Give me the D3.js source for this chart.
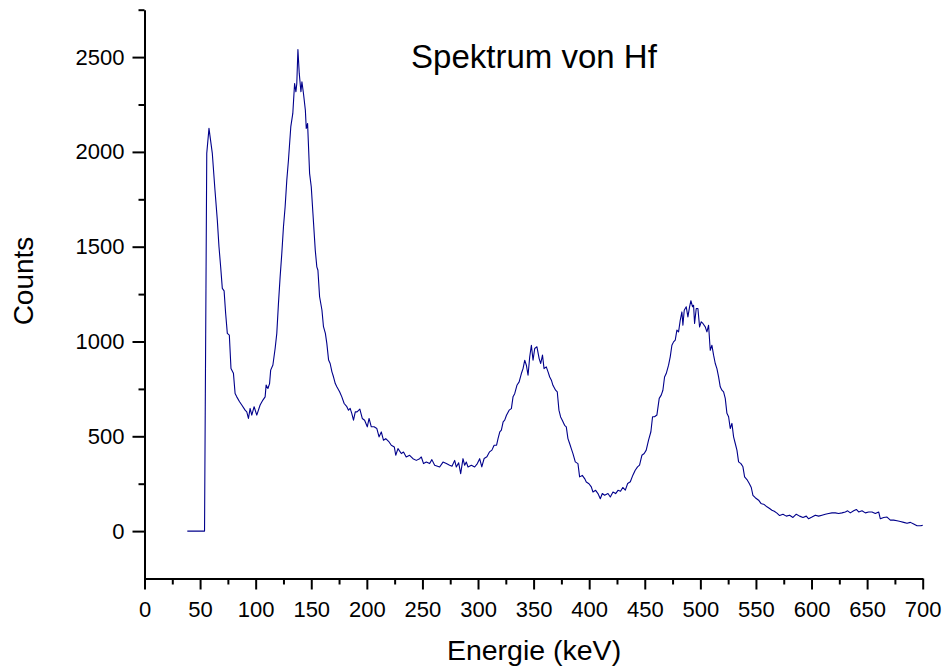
<!DOCTYPE html>
<html>
<head>
<meta charset="utf-8">
<script src="https://cdn.jsdelivr.net/npm/d3@7"></script>
<style>
  html, body { margin: 0; padding: 0; background: #fff; }
  svg { display: block; font-family: "Liberation Sans", Arial, sans-serif; }
</style>
</head>
<body>
<svg id="chart" width="945" height="667"></svg>
<script>
// ---- data ----
const energies = [
 38.5,54,56,58,61,63.4,65.5,67,68.5,70,71.6,73,74.5,76.3,77.8,80,81.5,83,85.5,87.5,90.5,92,93.5,95,96.5,98.6,101,104,106.5,108.5,109.4,111,112.5,113.5,115.5,117.5,119,120.5,122,123.5,125,126.5,128,129.5,131.6,133.4,135,136.2,137,138,139.2,140.7,141.6,143,144.7,145.5,146.7,148.5,150,151.5,153.6,155,156,157.5,159.6,161,162.7,164,165.6,167,168.6,170,171.6,173,175.5,177.5,179.6,182,183.5,185,186.5,188,189.6,191.2,193.7,195.9,198,200.4,202,204,206.5,209,211,213,215,217,220,222,224.7,226,228,231,233,235.4,238.5,241.5,244.5,247.5,249,251,253.5,256.5,258.5,261,265.5,268.5,271.5,274.5,276.6,279,280.5,282.6,284.4,286.5,288,289.5,291,294,297,299.4,301.5,303.4,305.5,308,310.4,312.5,314.5,316.7,318,319.6,321,322.6,324,325.6,328,330,331.5,333,335,337,339,340.5,342,343.5,345,346.5,348,349.5,351,353,355,356.4,358,359.4,361.4,363,364.5,366,367.4,369.8,371.3,372.8,374.3,375.8,377.9,379.4,380.9,382.4,383.9,385.4,387.5,389.9,391.4,393.8,395.9,397.4,399.8,401.9,403.4,405.8,407.9,410,411.8,413.9,416.9,419,421.4,423.8,425.9,428.2,430.2,432.5,434.6,437,439.3,441.4,443.5,445.3,447.4,449.5,451.3,453.4,455.5,457,458.8,460.9,463,464.8,466.3,467.8,469.3,471.4,472.9,474.4,475.9,477.4,478.9,480.4,481.9,483.4,484.3,485.5,487.3,488.8,490.3,491.5,493,493.9,494.8,496.3,497.8,499.3,500.8,502.3,504.4,505.9,507.4,508.9,510.4,511.9,513.4,514.9,516.4,517.9,519.4,520.9,522.4,523.9,525.4,526.9,528.4,529.9,531.4,532.9,534.4,536.5,538.3,539.8,541.9,544,545.8,547.3,549.4,552.4,554.5,557.5,559.9,562.3,564.4,566.5,568.9,571.3,574.3,577.3,580.3,583.3,586.3,589.3,592.3,595.3,597.4,600.4,603.4,606.4,609.4,612.4,615.4,618.4,621.4,624.4,627.4,630.4,632.5,634.9,637.9,640.3,642.4,645.4,648.4,651.4,654.4,657.4,660.4,661.9,664.9,667.9,670.9,673.9,676.9,679.9,682.9,685.9,688.9,691.9,694.9,697.9,700
];
const counts = [
 0,0,1992,2124,1992,1798,1640,1500,1394,1280,1267,1148,1043,1034,858,832,726,708,682,665,638,629,594,647,612,656,612,665,691,708,770,752,778,849,876,963,1043,1201,1341,1464,1605,1711,1851,1957,2133,2203,2361,2317,2361,2540,2414,2317,2370,2308,2220,2124,2150,1887,1816,1676,1482,1394,1376,1236,1166,1078,1043,990,902,884,840,814,778,761,735,708,673,656,638,647,620,585,629,629,643,594,585,550,594,550,550,541,497,523,479,488,470,453,444,400,435,409,417,391,400,382,373,382,391,356,364,356,377,347,338,364,356,347,342,373,338,360,303,382,347,364,338,347,338,356,382,339,383,392,418,427,453,453,488,523,532,576,585,611,638,646,708,725,769,787,831,857,901,875,822,919,980,901,963,972,910,884,928,857,866,840,813,796,769,743,734,638,602,585,558,550,488,462,435,409,365,356,286,294,277,259,250,233,206,215,198,171,198,189,198,180,206,198,215,210,230,216,251,260,295,321,339,348,400,409,427,480,524,603,603,612,700,717,743,813,831,875,919,980,998,1007,1060,1051,1112,1156,1086,1165,1183,1130,1183,1215,1183,1191,1095,1174,1174,1077,1104,1095,1077,1051,1086,954,980,928,884,857,813,761,743,734,700,621,603,541,568,497,462,427,365,356,339,286,272,251,230,189,176,163,146,140,128,119,110,105,95,82,89,79,84,72,89,79,72,79,65,74,84,79,84,89,93,96,96,93,96,101,107,96,107,114,101,107,96,101,101,93,101,65,72,74,58,58,55,51,46,41,46,37,28,28,30
];
const xMajorTicks = [0,50,100,150,200,250,300,350,400,450,500,550,600,650,700];
const xMinorTicks = [25,75,125,175,225,275,325,375,425,475,525,575,625,675];
const yMajorTicks = [0,500,1000,1500,2000,2500];
const yMinorTicks = [250,750,1250,1750,2250,2750];
const titleText = "Spektrum von Hf";
const xLabel = "Energie (keV)";
const yLabel = "Counts";

// ---- layout ----
const svg = d3.select("#chart");
const x = d3.scaleLinear().domain([0, 700]).range([144.5, 922.7]);
const y = d3.scaleLinear().domain([-250, 2750]).range([578.5, 9.7]);

const data = energies.map((e, i) => ({ e, c: counts[i] }));

// spectrum line
svg.append("path")
  .datum(data)
  .attr("fill", "none")
  .attr("stroke", "#00008B")
  .attr("stroke-width", 1.1)
  .attr("stroke-linejoin", "round")
  .attr("d", d3.line().x(d => x(d.e)).y(d => y(d.c)));

// axes
function styleAxis(g) {
  g.selectAll("path.domain").attr("stroke", "#000").attr("stroke-width", 2);
  g.selectAll(".tick line").attr("stroke", "#000").attr("stroke-width", 2);
  g.selectAll(".tick text")
    .attr("fill", "#000")
    .style("font-family", '"Liberation Sans", Arial, sans-serif')
    .style("font-size", "22px");
}

// x axis minor
svg.append("g")
  .attr("transform", `translate(0,${y(-250)})`)
  .call(d3.axisBottom(x).tickValues(xMinorTicks).tickSize(6).tickFormat(""))
  .call(g => g.select(".domain").remove())
  .call(styleAxis);
// x axis major
svg.append("g")
  .attr("transform", `translate(0,${y(-250)})`)
  .call(d3.axisBottom(x).tickValues(xMajorTicks).tickSize(11).tickSizeOuter(0).tickPadding(12).tickFormat(d3.format("d")))
  .call(styleAxis);

// y axis minor
svg.append("g")
  .attr("transform", `translate(${x(0)},0)`)
  .call(d3.axisLeft(y).tickValues(yMinorTicks).tickSize(6).tickFormat(""))
  .call(g => g.select(".domain").remove())
  .call(styleAxis);
// y axis major
svg.append("g")
  .attr("transform", `translate(${x(0)},0)`)
  .call(d3.axisLeft(y).tickValues(yMajorTicks).tickSize(12).tickSizeOuter(0).tickPadding(8).tickFormat(d3.format("d")))
  .call(styleAxis);

// title
svg.append("text")
  .attr("x", 534)
  .attr("y", 68)
  .attr("text-anchor", "middle")
  .style("font-size", "33px")
  .attr("fill", "#000")
  .text(titleText);

// x label
svg.append("text")
  .attr("x", 534)
  .attr("y", 660)
  .attr("text-anchor", "middle")
  .style("font-size", "28.5px")
  .attr("fill", "#000")
  .text(xLabel);

// y label
svg.append("text")
  .attr("transform", "translate(33,281) rotate(-90)")
  .attr("text-anchor", "middle")
  .style("font-size", "28px")
  .attr("fill", "#000")
  .text(yLabel);
</script>
</body>
</html>
